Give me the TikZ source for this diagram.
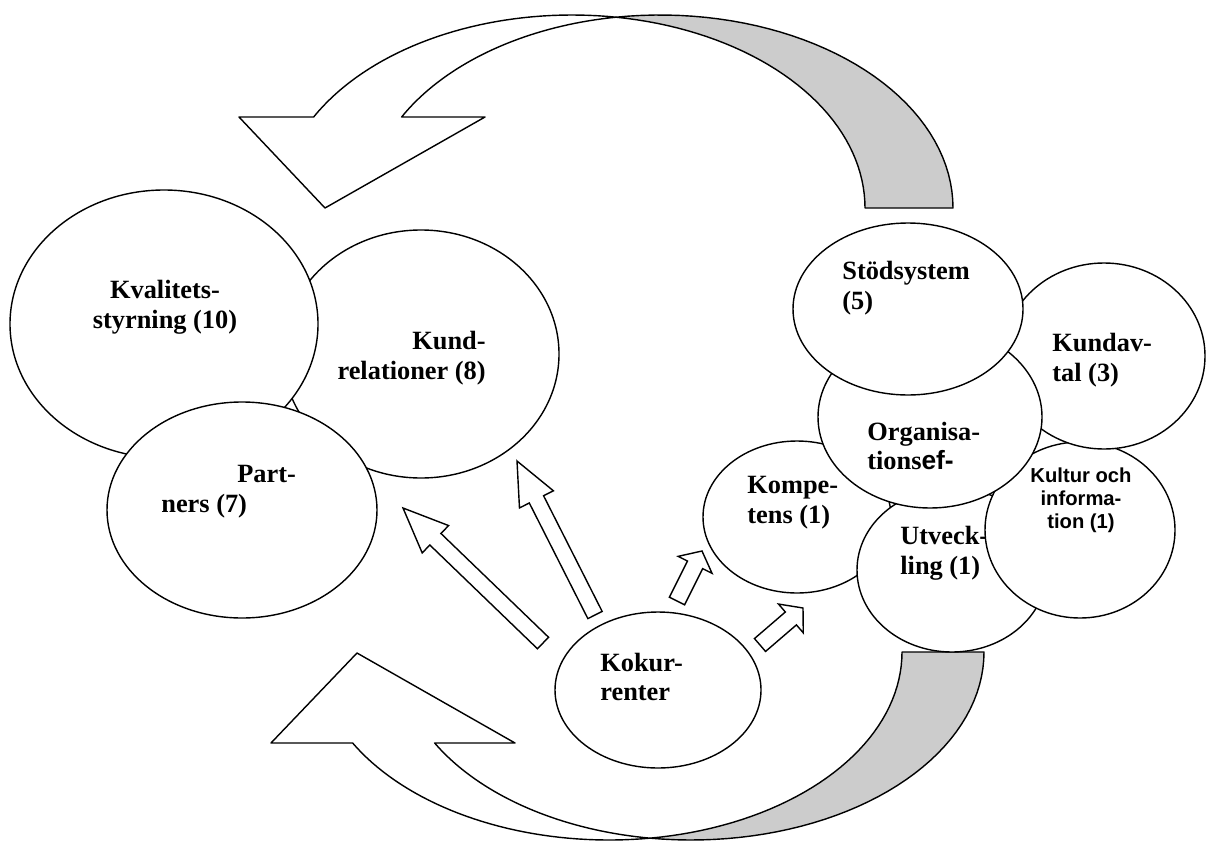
\documentclass[tikz,border=0pt]{standalone}
\usepackage{fontspec}
\setmainfont{Liberation Serif}
\setsansfont{Liberation Sans}
\usetikzlibrary{shapes.geometric, calc, positioning}

\tikzset{
  blob/.style 2 args={ellipse, draw, fill=white, line width=0.8pt, inner sep=0pt,
    minimum width=#1*0.4mm, minimum height=#2*0.4mm},
  lbl/.style={font=\fontsize{15}{17}\selectfont\bfseries, inner sep=0pt},
  slbl/.style={font=\sffamily\fontsize{11.5}{13}\selectfont\bfseries, inner sep=0pt, align=center},
  band/.style={draw, line width=0.8pt, line join=round, fill=white},
  backband/.style={band, fill=black!20},
  arrowbody/.style={draw, line width=0.8pt, fill=white, line join=miter}
}

% block arrow: from, to, shaft half width, head half width, head length
\newcommand{\blockarrow}[5]{%
  \coordinate (ah) at ($(#2)!#5!(#1)$);
  \draw[arrowbody] ($(#1)!#3!90:(#2)$) -- ($(ah)!#3!90:(#2)$) -- ($(ah)!#4!90:(#2)$)
    -- (#2) -- ($(ah)!#4!270:(#2)$) -- ($(ah)!#3!270:(#2)$) -- ($(#1)!#3!270:(#2)$) -- cycle;
}

\begin{document}
\begin{tikzpicture}[x=0.2mm, y=-0.2mm]
  \useasboundingbox (0,0) rectangle (1207,841);

  % upper curved arrow
  \draw[backband] plot[domain=261.36:360, samples=40, variable=\t] ({660+293*cos(\t)},{208+193*sin(\t)})
    -- plot[domain=360:278.64, samples=40, variable=\t] ({572+293*cos(\t)},{208+193*sin(\t)}) -- cycle;
  \draw[band] (239,117)
    -- plot[domain=208.13:278.64, samples=40, variable=\t] ({572+293*cos(\t)},{208+193*sin(\t)})
    -- plot[domain=261.36:208.13, samples=40, variable=\t] ({660+293*cos(\t)},{208+193*sin(\t)})
    -- (485,117) -- (325,208) -- cycle;

  % lower curved arrow
  \draw[backband] plot[domain=98.04:0, samples=40, variable=\t] ({691+293*cos(\t)},{652+188*sin(\t)})
    -- plot[domain=0:81.96, samples=40, variable=\t] ({609+293*cos(\t)},{652+188*sin(\t)}) -- cycle;
  \draw[band] (271,743)
    -- plot[domain=151.05:81.96, samples=40, variable=\t] ({609+293*cos(\t)},{652+188*sin(\t)})
    -- plot[domain=98.04:151.05, samples=40, variable=\t] ({691+293*cos(\t)},{652+188*sin(\t)})
    -- (515,743) -- (357,653) -- cycle;

  % left group
  \node[blob={138}{124}] (kund) at (421,354) {};
  \node[lbl, align=right, anchor=east] (kundtxt) at (486,358) {Kund-\\relationer (8)};
  \node[blob={154}{134}] (kval) at (164,324) {};
  \node[lbl, align=center] (kvaltxt) at (165,307) {Kvalitets-\\styrning (10)};
  \node[blob={135}{108}] (part) at (242,510) {};
  \node[lbl, align=left, anchor=west] (parttxt) at (161,492) {\hspace*{15.2mm}Part-\\ners (7)};

  % right group
  \node[blob={94}{76}] (komp) at (797,517) {};
  \node[lbl, align=left, anchor=west] (komptxt) at (747,503) {Kompe-\\tens (1)};
  \node[blob={95}{82}] (utv) at (952,570) {};
  \node[lbl, align=left, anchor=west] (utvtxt) at (900,553) {Utveck-\\ling (1)};
  \node[blob={95}{88}] (kult) at (1080,530) {};
  \node[slbl] (kulttxt) at (1081,500) {Kultur och\\informa-\\tion (1)};
  \node[blob={101}{93}] (kavt) at (1104,356) {};
  \node[lbl, align=left, anchor=west] (kavttxt) at (1052,360) {Kundav-\\tal (3)};
  \node[blob={112}{91}] (org) at (930,417) {};
  \node[lbl, align=left, anchor=west] (orgtxt) at (867,446) {Organisa-\\tions{\sffamily ef-}};
  \node[blob={115}{86}] (stod) at (908,309) {};
  \node[lbl, align=left, anchor=west] (stodtxt) at (842,288) {Stödsystem\\(5)};

  % competitors
  \node[blob={103}{78}] (kok) at (658,690) {};
  \node[lbl, align=left, anchor=west] (koktxt) at (600,677) {Kokur-\\renter};

  % block arrows
  \coordinate (a1s) at (543,643); \coordinate (a1e) at (403,508);
  \coordinate (a2s) at (595,615); \coordinate (a2e) at (517,461);
  \coordinate (a3s) at (677,601); \coordinate (a3e) at (702,551);
  \coordinate (a4s) at (760,645); \coordinate (a4e) at (803,608);
  \blockarrow{a1s}{a1e}{1.6mm}{3.8mm}{9mm}
  \blockarrow{a2s}{a2e}{1.6mm}{3.8mm}{8.6mm}
  \blockarrow{a3s}{a3e}{1.7mm}{3.8mm}{3.1mm}
  \blockarrow{a4s}{a4e}{1.7mm}{3.8mm}{3.2mm}
\end{tikzpicture}
\end{document}
